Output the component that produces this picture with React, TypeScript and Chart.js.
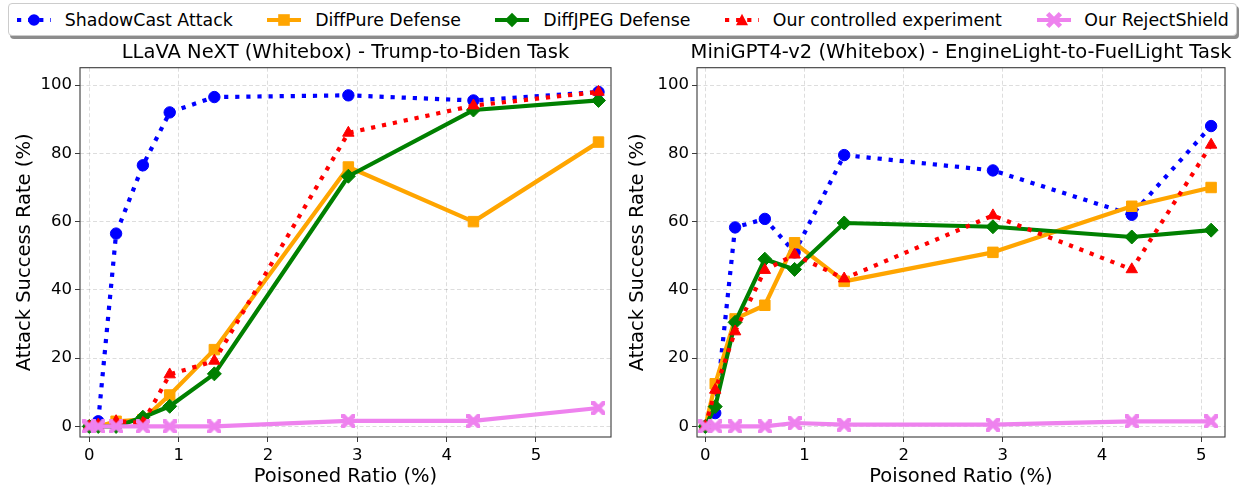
import React, { useEffect, useRef } from "react";
import { Chart, registerables } from "chart.js";

Chart.register(...registerables);

// ---------- data ----------
const seriesNames = [
  "ShadowCast Attack",
  "DiffPure Defense",
  "DiffJPEG Defense",
  "Our controlled experiment",
  "Our RejectShield",
];

const ratiosLlava = [0, 0.1, 0.3, 0.6, 0.9, 1.4, 2.9, 4.3, 5.7];
const llavaShadowCast = [0, 1.5, 56.5, 76.5, 92, 96.5, 97, 95.5, 98];
const llavaDiffPure = [0, 0, 1.5, 2, 9.2, 22.5, 76, 60, 83.3];
const llavaDiffJPEG = [0, 0, 0, 2.7, 5.9, 15.4, 73.3, 92.7, 95.5];
const llavaControlled = [0, 0.5, 1.5, 1, 15.2, 19.2, 86, 94, 98];
const llavaRejectShield = [0, 0, 0, 0, 0, 0, 1.6, 1.6, 5.4];

const ratiosMiniGpt = [0, 0.1, 0.3, 0.6, 0.9, 1.4, 2.9, 4.3, 5.1];
const miniShadowCast = [0, 3.9, 58.3, 60.8, 51, 79.5, 75, 62, 88];
const miniDiffPure = [0, 12.5, 31.5, 35.5, 53.8, 42.5, 51, 64.5, 70];
const miniDiffJPEG = [0, 5.8, 30.5, 49, 46, 59.6, 58.5, 55.5, 57.5];
const miniControlled = [0, 10.7, 27.8, 45.8, 50.3, 43.3, 61.8, 46, 82.5];
const miniRejectShield = [0, 0, 0, 0, 1, 0.5, 0.5, 1.5, 1.5];

const xTickValues = [0, 1, 2, 3, 4, 5];
const yTickValues = [0, 20, 40, 60, 80, 100];

const titleLlava = "LLaVA NeXT (Whitebox) - Trump-to-Biden Task";
const titleMini = "MiniGPT4-v2 (Whitebox) - EngineLight-to-FuelLight Task";
const xAxisLabel = "Poisoned Ratio (%)";
const yAxisLabel = "Attack Success Rate (%)";

// ---------- styles ----------
const FONT = "'DejaVu Sans', sans-serif";
const colors = ["#0000ff", "#ffa500", "#008000", "#ff0000", "#ee82ee"];
const dotted = [true, false, false, true, false];
const LW = 4.2;
const DOT = [4.2, 6.9];

function makeXMarker(color: string, size: number) {
  const c = document.createElement("canvas");
  c.width = size;
  c.height = size;
  const ctx = c.getContext("2d")!;
  ctx.translate(size / 2, size / 2);
  ctx.rotate(Math.PI / 4);
  ctx.fillStyle = color;
  const w = size * 0.17;
  const a = size * 0.68;
  ctx.fillRect(-a, -w, 2 * a, 2 * w);
  ctx.fillRect(-w, -a, 2 * w, 2 * a);
  return c;
}

function buildDatasets(xs: number[], ys: number[][]) {
  const xMarker = makeXMarker(colors[4], 14);
  const styles: any[] = [
    { pointStyle: "circle", pointRadius: 5.7 },
    { pointStyle: "rect", pointRadius: 7.4 },
    { pointStyle: "rectRot", pointRadius: 7 },
    { pointStyle: "triangle", pointRadius: 6.6 },
    { pointStyle: xMarker, pointRadius: 7 },
  ];
  return ys.map((vals, i) => ({
    label: seriesNames[i],
    data: xs.map((x, j) => ({ x, y: vals[j] })),
    borderColor: colors[i],
    backgroundColor: colors[i],
    pointBackgroundColor: colors[i],
    pointBorderColor: colors[i],
    pointBorderWidth: 1,
    borderWidth: LW,
    borderDash: dotted[i] ? DOT : [],
    borderCapStyle: "butt",
    borderJoinStyle: "round",
    tension: 0,
    fill: false,
    order: 5 - i,
    ...styles[i],
  }));
}

const framePlugin = {
  id: "frameAndTitle",
  afterDraw(chart: any, _args: any, opts: any) {
    const { ctx, chartArea } = chart;
    ctx.save();
    ctx.strokeStyle = "#3a3a3a";
    ctx.lineWidth = 1.1;
    ctx.setLineDash([]);
    ctx.strokeRect(
      chartArea.left,
      chartArea.top,
      chartArea.right - chartArea.left,
      chartArea.bottom - chartArea.top
    );
    ctx.fillStyle = "#000";
    ctx.font = `19.5px ${FONT}`;
    ctx.textAlign = "center";
    ctx.textBaseline = "alphabetic";
    ctx.fillText(opts.text, (chartArea.left + chartArea.right) / 2, chartArea.top - 10);
    ctx.restore();
  },
};

type PanelCfg = {
  title: string;
  xs: number[];
  ys: number[][];
  xMin: number;
  xMax: number;
  yAxisWidth: number;
  padRight: number;
  yTitlePad: number;
};

function buildConfig(cfg: PanelCfg): any {
  return {
    type: "line",
    data: { datasets: buildDatasets(cfg.xs, cfg.ys) },
    plugins: [framePlugin],
    options: {
      animation: false,
      responsive: false,
      devicePixelRatio: 1,
      layout: { padding: { top: 27.7, right: cfg.padRight, left: 0, bottom: 0 } },
      plugins: {
        legend: { display: false },
        tooltip: { enabled: false },
        title: { display: false },
        frameAndTitle: { text: cfg.title },
      },
      scales: {
        x: {
          type: "linear",
          min: cfg.xMin,
          max: cfg.xMax,
          afterFit: (s: any) => {
            s.height = 50;
          },
          afterBuildTicks: (s: any) => {
            s.ticks = xTickValues.map((v) => ({ value: v }));
          },
          ticks: {
            color: "#000",
            font: { family: FONT, size: 16.5 },
            padding: 4,
            maxRotation: 0,
            autoSkip: false,
          },
          grid: {
            color: "rgba(0,0,0,0.17)",
            lineWidth: 0.8,
            tickColor: "#3a3a3a",
            tickLength: 5,
            tickWidth: 1,
            tickBorderDash: [],
          },
          border: { display: false, dash: [4, 2.5] },
          title: {
            display: true,
            text: xAxisLabel,
            color: "#000",
            font: { family: FONT, size: 19.5, lineHeight: 1 },
            padding: { top: 0, bottom: 0 },
          },
        },
        y: {
          type: "linear",
          min: -3.1,
          max: 105.1,
          afterFit: (s: any) => {
            s.width = cfg.yAxisWidth;
          },
          afterBuildTicks: (s: any) => {
            s.ticks = yTickValues.map((v) => ({ value: v }));
          },
          ticks: {
            color: "#000",
            font: { family: FONT, size: 16.5 },
            padding: 3,
            autoSkip: false,
          },
          grid: {
            color: "rgba(0,0,0,0.17)",
            lineWidth: 0.8,
            tickColor: "#3a3a3a",
            tickLength: 5,
            tickWidth: 1,
            tickBorderDash: [],
          },
          border: { display: false, dash: [4, 2.5] },
          title: {
            display: true,
            text: yAxisLabel,
            color: "#000",
            font: { family: FONT, size: 19.5 },
            padding: { top: cfg.yTitlePad, bottom: 0 },
          },
        },
      },
    },
  };
}

function Panel(props: { cfg: PanelCfg; left: number; width: number }) {
  const ref = useRef<HTMLCanvasElement | null>(null);
  useEffect(() => {
    if (!ref.current) return;
    const chart = new Chart(ref.current, buildConfig(props.cfg));
    return () => chart.destroy();
  }, []);
  return (
    <canvas
      ref={ref}
      width={props.width}
      height={447}
      style={{ position: "absolute", left: props.left, top: 40, width: props.width, height: 447 }}
    />
  );
}

function LegendHandle({ i }: { i: number }) {
  const c = colors[i];
  const cx = 17;
  const cy = 10;
  let marker: any = null;
  if (i === 0) marker = <circle cx={cx} cy={cy} r={5.8} fill={c} />;
  if (i === 1) marker = <rect x={cx - 5.8} y={cy - 5.8} width={11.6} height={11.6} fill={c} />;
  if (i === 2)
    marker = (
      <polygon points={`${cx},${cy - 7.2} ${cx + 7.2},${cy} ${cx},${cy + 7.2} ${cx - 7.2},${cy}`} fill={c} />
    );
  if (i === 3)
    marker = (
      <polygon points={`${cx},${cy - 6.2} ${cx + 6},${cy + 5.2} ${cx - 6},${cy + 5.2}`} fill={c} />
    );
  if (i === 4)
    marker = (
      <g transform={`translate(${cx},${cy}) rotate(45)`}>
        <rect x={-9} y={-2.4} width={18} height={4.8} fill={c} />
        <rect x={-2.4} y={-9} width={4.8} height={18} fill={c} />
      </g>
    );
  return (
    <svg width={34} height={20} style={{ display: "block", flex: "none" }}>
      <line
        x1={0}
        y1={cy}
        x2={34}
        y2={cy}
        stroke={c}
        strokeWidth={LW}
        strokeDasharray={dotted[i] ? DOT.join(" ") : undefined}
      />
      {marker}
    </svg>
  );
}

function Legend() {
  return (
    <div
      style={{
        position: "absolute",
        left: 8,
        top: 3,
        width: 1229,
        height: 33,
        boxSizing: "border-box",
        border: "1px solid #cccccc",
        borderRadius: 4,
        background: "#fff",
        boxShadow: "2px 3px 0 rgba(0,0,0,0.45)",
        display: "flex",
        alignItems: "center",
        paddingLeft: 8,
        fontFamily: FONT,
        fontSize: 17.35,
        color: "#000",
        whiteSpace: "nowrap",
        zIndex: 2,
      }}
    >
      {seriesNames.map((name, i) => (
        <div
          key={name}
          style={{ display: "flex", alignItems: "center", marginRight: i < seriesNames.length - 1 ? 34.6 : 0 }}
        >
          <LegendHandle i={i} />
          <span style={{ marginLeft: 13.85 }}>{name}</span>
        </div>
      ))}
    </div>
  );
}

export default function App() {
  const left: PanelCfg = {
    title: titleLlava,
    xs: ratiosLlava,
    ys: [llavaShadowCast, llavaDiffPure, llavaDiffJPEG, llavaControlled, llavaRejectShield],
    xMin: -0.104,
    xMax: 5.84,
    yAxisWidth: 80,
    padRight: 11,
    yTitlePad: 13,
  };
  const right: PanelCfg = {
    title: titleMini,
    xs: ratiosMiniGpt,
    ys: [miniShadowCast, miniDiffPure, miniDiffJPEG, miniControlled, miniRejectShield],
    xMin: -0.084,
    xMax: 5.24,
    yAxisWidth: 75,
    padRight: 20,
    yTitlePad: 4.5,
  };
  return (
    <div
      style={{
        position: "fixed",
        left: 0,
        top: 0,
        width: 1245,
        height: 487,
        background: "#fff",
        overflow: "hidden",
      }}
    >
      <Panel cfg={left} left={0} width={622} />
      <Panel cfg={right} left={622} width={623} />
      <Legend />
    </div>
  );
}
